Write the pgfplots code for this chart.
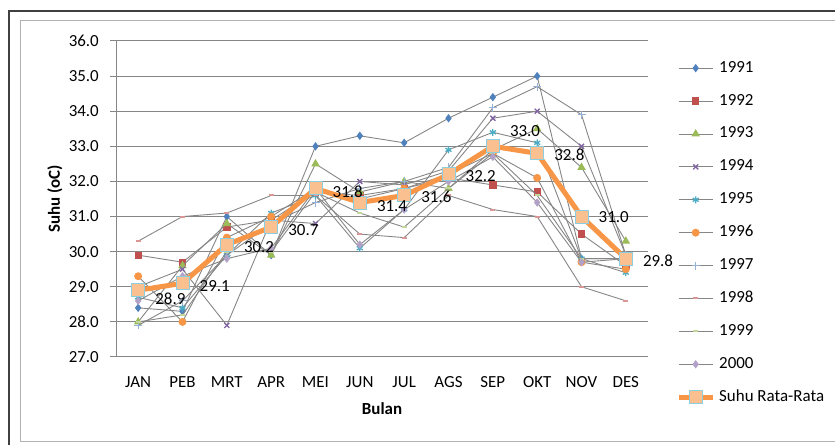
\documentclass[border=0pt]{standalone}
\usepackage{fontspec}
\setmainfont{Carlito}
\usepackage{pgfplots}
\usepackage{pgfplotstable}
\pgfplotsset{compat=1.18}

\definecolor{lg}{HTML}{868686}
\definecolor{c91}{HTML}{4F81BD}
\definecolor{c92}{HTML}{C0504D}
\definecolor{c93}{HTML}{9BBB59}
\definecolor{c94}{HTML}{8064A2}
\definecolor{c95}{HTML}{4BACC6}
\definecolor{c96}{HTML}{F79646}
\definecolor{c97}{HTML}{95B3D7}
\definecolor{c98}{HTML}{D99694}
\definecolor{c99}{HTML}{C3D69B}
\definecolor{c00}{HTML}{B3A2C7}
\definecolor{avgfill}{HTML}{FAC090}
\definecolor{avgedge}{HTML}{8DCDE0}

% suhu bulanan (oC), bulan 0 = JAN
\pgfplotstableread{
m  y91  y92  y93  y94  y95  y96  y97  y98  y99  y00  avg
0  28.4 29.9 28.0 29.0 28.7 29.3 27.9 30.3 28.0 28.6 28.9
1  28.3 29.7 29.6 29.5 28.4 28.0 28.6 31.0 28.2 29.3 29.1
2  31.0 30.7 30.8 27.9 29.9 30.4 29.9 31.1 30.0 29.8 30.2
3  29.9 30.9 29.9 30.9 31.1 31.0 30.8 31.6 30.0 30.1 30.7
4  33.0 31.7 32.5 30.8 31.6 31.8 31.4 31.6 31.7 31.8 31.8
5  33.3 31.6 31.7 32.0 30.1 31.5 31.8 30.5 31.1 30.2 31.4
6  33.1 31.8 32.0 31.9 31.2 31.8 32.0 30.4 30.7 31.2 31.6
7  33.8 32.1 31.8 32.3 32.9 32.2 32.4 31.6 31.8 32.0 32.2
8  34.4 31.9 32.9 33.8 33.4 32.8 34.1 31.2 32.8 32.7 33.0
9  35.0 31.7 33.5 34.0 33.1 32.1 34.7 31.0 31.6 31.4 32.8
10 29.8 30.5 32.4 33.0 29.8 29.7 33.9 29.0 29.8 29.7 31.0
11 29.8 29.6 30.3 29.9 29.4 29.5 29.9 28.6 29.8 29.8 29.8
}\suhu

\begin{document}
\begin{tikzpicture}[x=1bp,y=1bp]
\path[use as bounding box] (0,0) rectangle (835,445);
% chart frames
\draw[line width=1.5bp, black!75] (9,-10) -- (9,434) -- (850,434);
\draw[line width=1bp, black!30] (20,3) -- (20,424) -- (850,424);
\draw[line width=1bp, black!30] (20,3) -- (850,3);

\begin{axis}[
  at={(116bp,88bp)}, anchor=south west,
  scale only axis, width=532bp, height=316bp,
  xmin=-0.5, xmax=11.5, ymin=27, ymax=36,
  clip mode=individual,
  axis x line*=bottom, axis y line*=left,
  axis line style={lg, line width=1bp, -},
  xtick={0,...,11},
  xticklabels={JAN,PEB,MRT,APR,MEI,JUN,JUL,AGS,SEP,OKT,NOV,DES},
  ytick={27,28,...,36},
  yticklabel={\pgfmathprintnumber[fixed,fixed zerofill,precision=1]{\tick}},
  /pgf/number format/assume math mode=true,
  ymajorgrids, grid style={lg, line width=1bp},
  tick align=outside, major tick length=6bp,
  xtick style={draw=none},
  ytick style={lg, line width=1bp},
  ticklabel style={font=\fontsize{17}{20}\selectfont, text=black},
  yticklabel style={inner sep=0pt, anchor=east, xshift=-11bp},
  xticklabel style={inner sep=0pt, anchor=north, yshift=-13bp},
  every axis x label/.style={at={(axis description cs:0.5,0)}, anchor=center, yshift=-52bp},
  every axis y label/.style={at={(axis description cs:-0.1147,0.5)}, anchor=center, rotate=90},
  label style={font=\fontsize{17}{20}\selectfont\bfseries},
  xlabel={Bulan}, ylabel={Suhu (oC)},
  legend style={at={(axis description cs:1.0526,0.94)}, anchor=north west,
    draw=none, fill=none, inner sep=0pt, row sep=16.9bp, column sep=4bp,
    font=\fontsize{17}{20}\selectfont,
    nodes={inner sep=0pt, text height=12bp, text depth=4bp}},
  legend cell align=left,
  legend image code/.code={
    \draw[mark repeat=2,mark phase=2,#1] plot coordinates {(0bp,0bp)(17bp,0bp)(34bp,0bp)};
  },
  every axis plot/.append style={lg, line width=0.9bp},
]
\addplot[mark=diamond*, mark size=3.5bp, mark options={c91, fill=c91}] table[x=m,y=y91] {\suhu};
\addlegendentry{1991}
\addplot[mark=square*, mark size=3.2bp, mark options={c92, fill=c92}] table[x=m,y=y92] {\suhu};
\addlegendentry{1992}
\addplot[mark=triangle*, mark size=4bp, mark options={c93, fill=c93}] table[x=m,y=y93] {\suhu};
\addlegendentry{1993}
\addplot[mark=x, mark size=3.5bp, mark options={c94, line width=1.3bp}] table[x=m,y=y94] {\suhu};
\addlegendentry{1994}
\addplot[mark=asterisk, mark size=3.5bp, mark options={c95, line width=1.3bp}] table[x=m,y=y95] {\suhu};
\addlegendentry{1995}
\addplot[mark=*, mark size=3.5bp, mark options={c96, fill=c96}] table[x=m,y=y96] {\suhu};
\addlegendentry{1996}
\addplot[mark=+, mark size=4bp, mark options={c97, line width=1.2bp}] table[x=m,y=y97] {\suhu};
\addlegendentry{1997}
\addplot[mark=-, mark size=2.5bp, mark options={c98, line width=2bp}] table[x=m,y=y98] {\suhu};
\addlegendentry{1998}
\addplot[mark=-, mark size=2.5bp, mark options={c99, line width=2bp}] table[x=m,y=y99] {\suhu};
\addlegendentry{1999}
\addplot[mark=diamond*, mark size=3.5bp, mark options={c00, fill=c00}] table[x=m,y=y00] {\suhu};
\addlegendentry{2000}
\addplot[c96, line width=5bp, mark=square*, mark size=6.5bp,
  mark options={draw=avgedge, fill=avgfill, line width=1bp}] table[x=m,y=avg] {\suhu};
\addlegendentry{Suhu Rata-Rata}

% data labels of the average
\begin{scope}[every node/.style={anchor=west, inner sep=0pt, font=\fontsize{17}{20}\selectfont, xshift=17bp}]
\node[yshift=-8bp] at (axis cs:0,28.9) {28.9};
\node[yshift=-3bp] at (axis cs:1,29.1) {29.1};
\node[yshift=-2bp] at (axis cs:2,30.2) {30.2};
\node[yshift=-3bp] at (axis cs:3,30.7) {30.7};
\node[yshift=-3bp] at (axis cs:4,31.8) {31.8};
\node[yshift=-4bp] at (axis cs:5,31.4) {31.4};
\node[yshift=-1bp] at (axis cs:6,31.6) {31.6};
\node[yshift=-2bp] at (axis cs:7,32.2) {32.2};
\node[yshift=15bp] at (axis cs:8,33.0) {33.0};
\node[yshift=-1.5bp] at (axis cs:9,32.8) {32.8};
\node[yshift=-1bp] at (axis cs:10,31.0) {31.0};
\node[yshift=-2.5bp] at (axis cs:11,29.8) {29.8};
\end{scope}
\end{axis}
\end{tikzpicture}
\end{document}
